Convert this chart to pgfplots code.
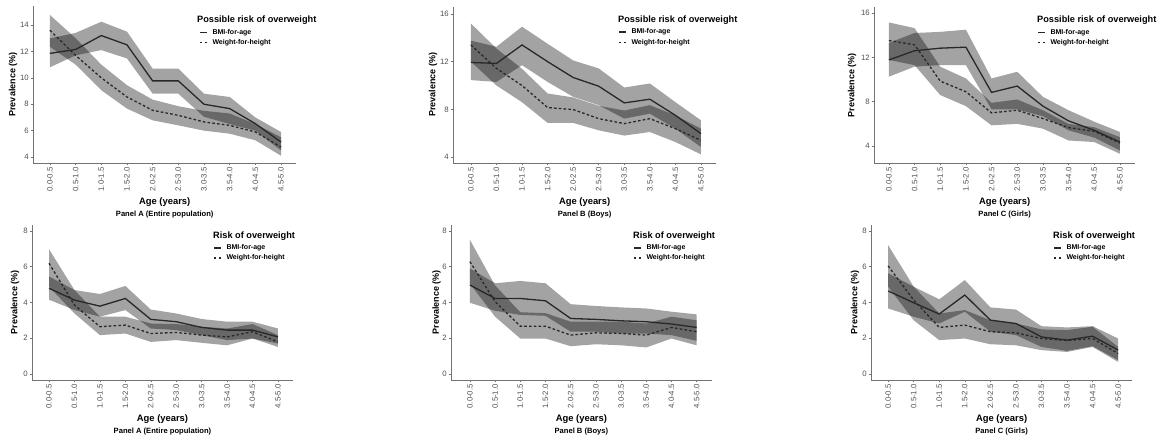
\documentclass[border=0pt]{standalone}
\usepackage{pgfplots}
\pgfplotsset{compat=1.18}
\usepackage{pgfplotstable}
\usepgfplotslibrary{fillbetween}
\usepackage{fontspec}
\setmainfont{Liberation Sans}
\definecolor{tickgray}{RGB}{80,80,80}
\definecolor{linecol}{RGB}{40,40,40}
\newcommand\tickfont{\fontsize{7.8}{7.8}\selectfont}
\newcommand\legfont{\bfseries\fontsize{7}{7}\selectfont}

% x bmi bl bh wfh wl wh
\pgfplotstableread{
x bmi bl bh wfh wl wh
0 11.85 10.8 12.99 13.6 12.35 14.76
1 12.15 11.7 13.4 11.7 11.0 13.0
2 13.2 12.1 14.25 10.0 9.06 11.0
3 12.5 11.47 13.5 8.55 7.67 9.44
4 9.77 8.8 10.7 7.54 6.78 8.35
5 9.77 8.8 10.7 7.16 6.4 7.85
6 8.0 7.05 8.8 6.66 6.0 7.5
7 7.67 6.5 8.55 6.4 5.77 7.3
8 6.53 6.0 7.0 5.9 5.27 6.5
9 5.14 4.5 5.9 4.76 4.1 5.5
}\tA
\pgfplotstableread{
x bmi bl bh wfh wl wh
0 11.93 10.45 13.76 13.4 12.0 15.2
1 11.85 10.3 13.25 11.43 10.0 13.1
2 13.4 11.7 14.93 10.0 8.6 11.4
3 12.0 10.3 13.5 8.15 6.86 9.33
4 10.67 9.05 12.1 7.98 6.86 9.0
5 9.94 8.35 11.43 7.22 6.24 8.3
6 8.54 7.22 9.83 6.8 5.8 7.9
7 8.85 7.64 10.17 7.22 6.1 8.35
8 7.5 6.38 8.6 6.38 5.26 7.5
9 5.96 4.84 7.08 5.4 4.22 6.38
}\tB
\pgfplotstableread{
x bmi bl bh wfh wl wh
0 11.77 10.26 13.3 13.52 11.77 15.15
1 12.6 11.16 14.2 13.13 11.3 14.64
2 12.83 11.3 14.3 9.86 8.6 11.16
3 12.92 11.3 14.5 8.9 7.6 10.1
4 8.84 7.3 10.1 6.99 5.87 7.9
5 9.41 7.3 10.7 7.23 6.0 8.2
6 7.6 6.69 8.44 6.48 5.57 7.23
7 6.27 5.42 7.23 5.66 4.5 6.0
8 5.42 4.76 6.2 5.33 4.36 5.7
9 4.36 3.6 5.27 4.27 3.3 4.8
}\tC
\pgfplotstableread{
x bmi bl bh wfh wl wh
0 4.79 4.15 5.45 6.19 4.88 6.97
1 4.13 3.57 4.69 3.85 3.38 4.69
2 3.79 3.2 4.47 2.64 2.17 3.2
3 4.22 3.57 4.92 2.73 2.26 3.2
4 3.05 2.54 3.6 2.26 1.79 2.82
5 2.92 2.45 3.38 2.32 1.89 2.79
6 2.6 2.17 3.07 2.17 1.74 2.64
7 2.45 1.89 2.92 2.07 1.6 2.54
8 2.45 1.98 2.92 2.36 1.98 2.79
9 2.07 1.7 2.54 1.79 1.51 2.17
}\bA
\pgfplotstableread{
x bmi bl bh wfh wl wh
0 4.97 3.98 5.9 6.28 5.05 7.5
1 4.22 3.53 5.07 4.04 3.2 4.95
2 4.22 3.3 5.2 2.67 1.98 3.45
3 4.09 3.25 5.07 2.67 1.98 3.4
4 3.1 2.36 3.9 2.17 1.55 2.92
5 3.05 2.36 3.8 2.3 1.66 2.92
6 2.97 2.26 3.72 2.26 1.6 2.92
7 2.92 2.26 3.66 2.17 1.48 2.82
8 2.79 2.17 3.48 2.6 1.98 3.2
9 2.6 1.85 3.33 2.36 1.6 3.0
}\bB
\pgfplotstableread{
x bmi bl bh wfh wl wh
0 4.64 3.66 5.63 6.04 4.88 7.2
1 3.98 3.2 4.88 4.13 3.0 4.88
2 3.35 2.82 4.17 2.6 1.89 3.38
3 4.41 3.48 5.25 2.73 1.98 3.57
4 3.01 2.36 3.72 2.36 1.66 3.0
5 2.82 2.17 3.6 2.3 1.6 2.82
6 2.07 1.51 2.67 1.98 1.33 2.49
7 1.89 1.29 2.6 1.87 1.23 2.45
8 2.11 1.55 2.67 1.98 1.51 2.64
9 1.33 0.77 1.98 1.14 0.67 1.51
}\bC

\pgfplotsset{
  panel/.style={
    scale only axis, anchor=south west, clip=false,
    axis x line*=bottom, axis y line*=left,
    axis line style={-, draw=black!55, line width=0.6pt},
    tick align=outside, major tick length=2.5pt,
    tick style={draw=black!55, line width=0.5pt},
    xtick={0,...,9},
    xticklabels={0.0-0.5,0.5-1.0,1.0-1.5,1.5-2.0,2.0-2.5,2.5-3.0,3.0-3.5,3.5-4.0,4.0-4.5,4.5-5.0},
    xticklabel style={rotate=90, anchor=east, font=\tickfont, text=tickgray, inner sep=1.5pt},
    yticklabel style={font=\tickfont, text=tickgray, inner sep=1.5pt},
    /pgf/number format/assume math mode=true,
    legend image code/.code={\draw[##1] (0pt,0pt) -- (7pt,0pt);},
    legend style={draw=none, fill=none, at={(axis description cs:0,1)}, anchor=north west,
      inner sep=0pt, font=\legfont,
      nodes={inner sep=0pt, text height=5.5pt, text depth=1.5pt},
      row sep=3.5pt, /tikz/every odd column/.style={column sep=5pt}},
    legend cell align=left,
    legend entries={BMI-for-age,Weight-for-height},
  },
  bmiline/.style={draw=linecol, line width=1.3pt},
  wfhline/.style={draw=linecol, line width=1.3pt, dash pattern=on 2.6pt off 2.2pt},
  band/.style={fill=black, fill opacity=0.36, draw=none, forget plot},
}

\newcommand\drawpanel[1]{%
  \addplot[name path=bh, draw=none, forget plot] table[x=x,y=bh]{#1};
  \addplot[name path=bl, draw=none, forget plot] table[x=x,y=bl]{#1};
  \addplot[name path=wh, draw=none, forget plot] table[x=x,y=wh]{#1};
  \addplot[name path=wl, draw=none, forget plot] table[x=x,y=wl]{#1};
  \addplot[band] fill between[of=bh and bl];
  \addplot[band] fill between[of=wh and wl];
  \addplot[bmiline] table[x=x,y=bmi]{#1};
  \addplot[wfhline] table[x=x,y=wfh]{#1};
}
\newcommand\decor[5]{% #1 ylabel shift, #2 title, #3 title x, #4 title y, #5 caption
  \node[xshift=-#1pt, rotate=90, font=\bfseries\fontsize{9}{9}\selectfont] at (rel axis cs:0,0.5) {Prevalence (\%)};
  \node[yshift=-39pt, font=\bfseries\fontsize{9.4}{9.4}\selectfont] at (rel axis cs:0.5,0) {Age (years)};
  \node[yshift=-52pt, font=\bfseries\fontsize{7.6}{7.6}\selectfont] at (rel axis cs:0.5,0) {#5};
  \node[anchor=west, inner sep=0pt, xshift=#3pt, yshift=#4pt, font=\bfseries\fontsize{9.2}{9.2}\selectfont] at (rel axis cs:0,1) {#2};
}

\begin{document}
\begin{tikzpicture}
\path (0,0) rectangle (1164pt,441pt);

% ---------- Top row ----------
\begin{axis}[panel, at={(33pt,278pt)}, width=263.4pt, height=157pt,
  xmin=-0.66, xmax=9.6, ymin=3.55, ymax=15.44, ytick={4,6,8,10,12,14},
  legend style={xshift=166pt, yshift=-22.5pt}]
\drawpanel{\tA}
\decor{20}{Possible risk of overweight}{164}{-14}{Panel A (Entire population)}
\end{axis}

\begin{axis}[panel, at={(453pt,278pt)}, width=263.3pt, height=156.2pt,
  xmin=-0.7, xmax=9.6, ymin=3.5, ymax=16.6, ytick={4,8,12,16},
  legend style={xshift=165pt, yshift=-21.5pt}]
\drawpanel{\tB}
\decor{20}{Possible risk of overweight}{165}{-13}{Panel B (Boys)}
\end{axis}

\begin{axis}[panel, at={(874pt,278pt)}, width=261.3pt, height=155.5pt,
  xmin=-0.58, xmax=9.6, ymin=2.47, ymax=16.5, ytick={4,8,12,16},
  legend style={xshift=163pt, yshift=-21pt}]
\drawpanel{\tC}
\decor{22}{Possible risk of overweight}{163}{-12.5}{Panel C (Girls)}
\end{axis}

% ---------- Bottom row ----------
\begin{axis}[panel, at={(32pt,61pt)}, width=261pt, height=155.2pt,
  xmin=-0.67, xmax=9.59, ymin=-0.34, ymax=8.34, ytick={0,2,4,6,8},
  legend style={xshift=181pt, yshift=-19.5pt, row sep=3pt}]
\drawpanel{\bA}
\decor{17}{Risk of overweight}{181}{-11}{Panel A (Entire population)}
\end{axis}

\begin{axis}[panel, at={(451pt,61pt)}, width=260.8pt, height=155.2pt,
  xmin=-0.75, xmax=9.6, ymin=-0.34, ymax=8.34, ytick={0,2,4,6,8},
  legend style={xshift=182pt, yshift=-19.5pt, row sep=3pt}]
\drawpanel{\bB}
\decor{14.5}{Risk of overweight}{182}{-11}{Panel B (Boys)}
\end{axis}

\begin{axis}[panel, at={(871pt,61pt)}, width=261.2pt, height=155.2pt,
  xmin=-0.67, xmax=9.55, ymin=-0.34, ymax=8.34, ytick={0,2,4,6,8},
  legend style={xshift=182pt, yshift=-19.5pt, row sep=3pt}]
\drawpanel{\bC}
\decor{16}{Risk of overweight}{182}{-11}{Panel C (Girls)}
\end{axis}
\end{tikzpicture}
\end{document}
